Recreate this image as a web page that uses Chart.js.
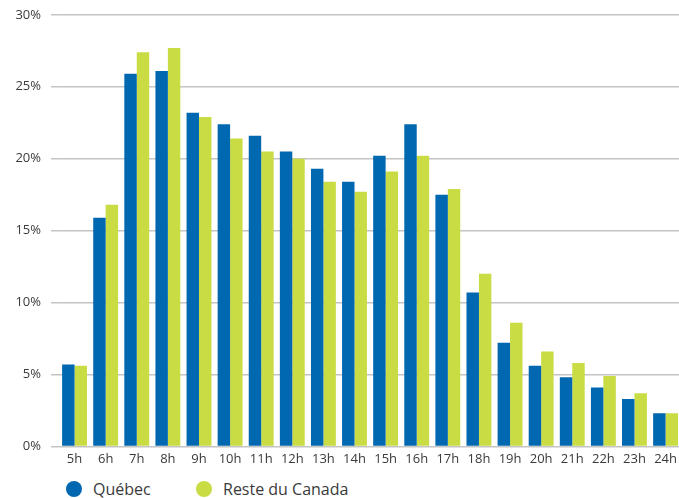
<!DOCTYPE html>
<html>
<head>
<meta charset="utf-8">
<script src="https://cdn.jsdelivr.net/npm/chart.js@4"></script>
<style>
  html, body { margin: 0; padding: 0; background: #fff; overflow: hidden; width: 679px; height: 498px; }
  #wrap { position: absolute; left: 0; top: -3px; width: 682px; height: 475px; }
  .leg { position: absolute; top: 478px; font-family: "Open Sans", sans-serif; font-size: 16px; color: #3a3a3a; display: flex; align-items: center; }
  .dot { width: 16px; height: 16px; border-radius: 50%; display: inline-block; margin-right: 11px; }
</style>
</head>
<body>
<div id="wrap"><canvas id="c" width="682" height="475" style="width:682px;height:475px"></canvas></div>
<div class="leg" style="left:66px"><span class="dot" style="background:#0067b1"></span>Québec</div>
<div class="leg" style="left:196px"><span class="dot" style="background:#c9dc44"></span>Reste du Canada</div>
<script>
const categories = ["5h","6h","7h","8h","9h","10h","11h","12h","13h","14h","15h","16h","17h","18h","19h","20h","21h","22h","23h","24h"];
const quebec = [5.7,15.9,25.9,26.1,23.2,22.4,21.6,20.5,19.3,18.4,20.2,22.4,17.5,10.7,7.2,5.6,4.8,4.1,3.3,2.3];
const resteDuCanada = [5.6,16.8,27.4,27.7,22.9,21.4,20.5,20.0,18.4,17.7,19.1,20.2,17.9,12.0,8.6,6.6,5.8,4.9,3.7,2.3];
const yTicks = [0,5,10,15,20,25,30];
const seriesNames = ["Québec","Reste du Canada"];

new Chart(document.getElementById('c'), {
  type: 'bar',
  data: {
    labels: categories,
    datasets: [
      { label: seriesNames[0], data: quebec, backgroundColor: '#0067b1', categoryPercentage: 0.8, barPercentage: 1.0 },
      { label: seriesNames[1], data: resteDuCanada, backgroundColor: '#c9dc44', categoryPercentage: 0.8, barPercentage: 1.0 }
    ]
  },
  options: {
    responsive: false,
    animation: false,
    layout: { padding: { top: 11, right: 0, bottom: 0, left: 0 } },
    plugins: { legend: { display: false }, tooltip: { enabled: false } },
    scales: {
      x: {
        offset: true,
        grid: { display: false, drawTicks: false },
        border: { display: false },
        ticks: { color: '#3a3a3a', font: { family: 'Open Sans', size: 13 }, padding: 5, maxRotation: 0, autoSkip: false }
      },
      y: {
        min: 0, max: 30,
        afterBuildTicks: (s) => { s.ticks = yTicks.map(v => ({ value: v })); },
        afterFit: (s) => { s.width = 59; },
        grid: { color: '#c4c4c4', lineWidth: 1.5, drawTicks: true, tickLength: 8, tickColor: '#c4c4c4' },
        border: { display: false },
        ticks: { color: '#3a3a3a', font: { family: 'Open Sans', size: 13 }, padding: 10, callback: v => v + '%' }
      }
    }
  }
});
</script>
</body>
</html>
